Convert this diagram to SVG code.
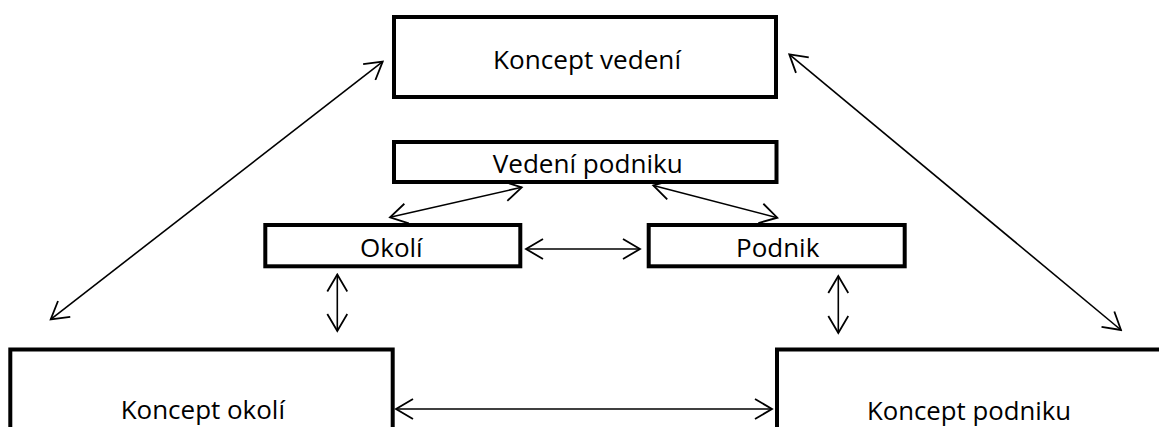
<svg xmlns="http://www.w3.org/2000/svg" width="1159" height="427" viewBox="0 0 1159 427">
<style>
.box{fill:#fff;stroke:#000;stroke-width:4}
.lbl{font-family:"Open Sans","Liberation Sans",sans-serif;font-size:25px;fill:#000}
.conn{fill:none;stroke:#000;stroke-width:1.6;marker-start:url(#ah);marker-end:url(#ah)}
</style>
<defs>
<marker id="ah" viewBox="0 0 22 22" refX="20" refY="11" markerWidth="22" markerHeight="22" markerUnits="userSpaceOnUse" orient="auto-start-reverse">
<path d="M3,1 L20,11 L3,21" fill="none" stroke="#000" stroke-width="1.8"/>
</marker>
</defs>
<rect width="1159" height="427" fill="#fff"/>
<g id="connectors">
<line class="conn" x1="50.7" y1="319.3" x2="382.7" y2="61.7"/>
<line class="conn" x1="789.3" y1="54.3" x2="1121" y2="330"/>
<line class="conn" x1="390" y1="217.3" x2="521.7" y2="187.3"/>
<line class="conn" x1="653.3" y1="185.5" x2="777.3" y2="217.7"/>
<line class="conn" x1="526" y1="249" x2="640" y2="249"/>
<line class="conn" x1="337.3" y1="274.5" x2="337.3" y2="331"/>
<line class="conn" x1="838.3" y1="276" x2="838.3" y2="333"/>
<line class="conn" x1="396" y1="409" x2="772" y2="409"/>
</g>
<g id="koncept-vedeni">
<rect class="box" x="394" y="17" width="382" height="80"/>
<text class="lbl" x="493" y="69.3" textLength="188" lengthAdjust="spacingAndGlyphs">Koncept vedení</text>
</g>
<g id="vedeni-podniku">
<rect class="box" x="394" y="142" width="382.5" height="40"/>
<text class="lbl" x="492.7" y="173.3" textLength="190" lengthAdjust="spacingAndGlyphs">Vedení podniku</text>
</g>
<g id="okoli">
<rect class="box" x="265.3" y="225" width="255" height="41.3"/>
<text class="lbl" x="360" y="257.3" textLength="62.7" lengthAdjust="spacingAndGlyphs">Okolí</text>
</g>
<g id="podnik">
<rect class="box" x="648.7" y="225" width="256" height="41.3"/>
<text class="lbl" x="736" y="256.8" textLength="83.3" lengthAdjust="spacingAndGlyphs">Podnik</text>
</g>
<g id="koncept-okoli">
<rect class="box" x="10.3" y="349.5" width="382.4" height="120"/>
<text class="lbl" x="120.7" y="419.3" textLength="164.3" lengthAdjust="spacingAndGlyphs">Koncept okolí</text>
</g>
<g id="koncept-podniku">
<rect class="box" x="777" y="349.5" width="500" height="120"/>
<text class="lbl" x="867" y="420" textLength="204" lengthAdjust="spacingAndGlyphs">Koncept podniku</text>
</g>
</svg>
